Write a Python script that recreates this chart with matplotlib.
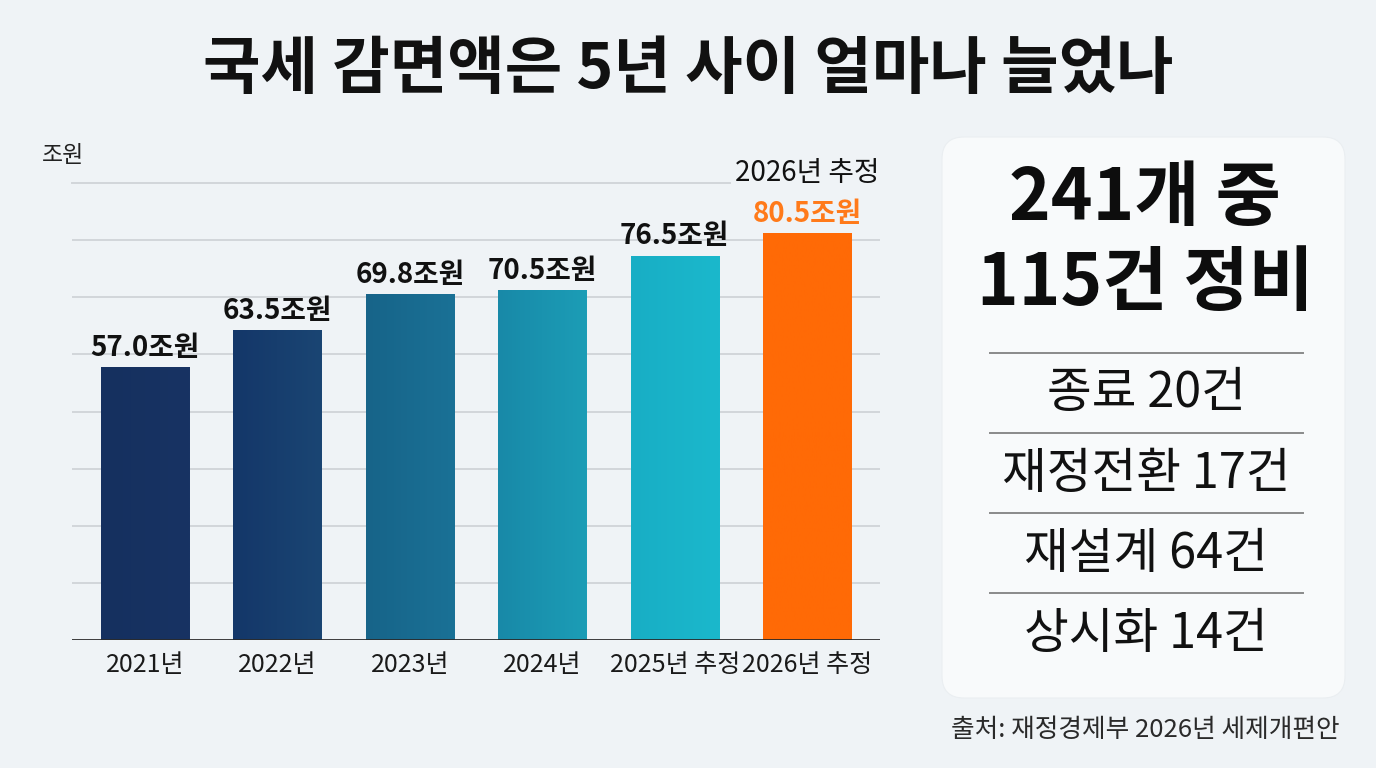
import numpy as np
import matplotlib.pyplot as plt
from matplotlib.patches import FancyBboxPatch
from matplotlib.colors import LinearSegmentedColormap

plt.rcParams['font.family'] = ['Noto Sans CJK KR', 'DejaVu Sans']

# data
years = ['2021년', '2022년', '2023년', '2024년', '2025년 추정', '2026년 추정']
values = [57.0, 63.5, 69.8, 70.5, 76.5, 80.5]
value_labels = ['57.0조원', '63.5조원', '69.8조원', '70.5조원', '76.5조원', '80.5조원']
left_colors = ['#15305f', '#143769', '#176489', '#1889a8', '#18aec5', '#ff6a06']
right_colors = ['#183363', '#1a4573', '#1a7196', '#1c9db6', '#1bb8cc', '#ff6a06']

summary_lines = ['241개 중', '115건 정비']
items = ['종료 20건', '재정전환 17건', '재설계 64건', '상시화 14건']

title = '국세 감면액은 5년 사이 얼마나 늘었나'
unit = '조원'
note_2026 = '2026년 추정'
source = '출처: 재정경제부 2026년 세제개편안'

BG = '#eff3f6'
W, H = 1376, 768

fig = plt.figure(figsize=(W / 100, H / 100), dpi=100, facecolor=BG)

# overlay axes in pixel coordinates for the layout pieces
lay = fig.add_axes([0, 0, 1, 1], zorder=0)
lay.set_xlim(0, W)
lay.set_ylim(H, 0)
lay.axis('off')

# bar chart axes
ax = fig.add_axes([72 / W, 1 - 640 / H, 808 / W, 457 / H], zorder=2)
ax.patch.set_alpha(0)
y0 = 9.2  # axis does not start at zero in the original
ax.set_ylim(y0, y0 + 80)
ax.set_xlim(-0.55, len(years) - 0.45)

for k in range(1, 9):
    if k == 8:
        ax.axhline(y0 + 10 * k, xmin=0, xmax=0.814, color='#d2d6da', lw=1.4,
                   zorder=0, clip_on=False)
    else:
        ax.axhline(y0 + 10 * k, color='#d2d6da', lw=1.4, zorder=0)

x = np.arange(len(years))
bars = ax.bar(x, values, width=0.665, bottom=0, color='none', zorder=2)
for i, b in enumerate(bars):
    cmap = LinearSegmentedColormap.from_list('g', [left_colors[i], right_colors[i]])
    grad = np.linspace(0, 1, 64).reshape(1, -1)
    bx, bw = b.get_x(), b.get_width()
    im = ax.imshow(grad, cmap=cmap, aspect='auto', zorder=2,
                   extent=[bx, bx + bw, y0, values[i]])
    im.set_clip_path(b)

ax.axhline(y0, color='#2b2b2b', lw=2, zorder=3)

for i, v in enumerate(values):
    last = i == len(values) - 1
    ax.annotate(value_labels[i], (x[i], v), xytext=(0, 8), textcoords='offset points',
                ha='center', va='baseline', fontsize=20, fontweight='bold',
                color='#ff7a1a' if last else '#111111', annotation_clip=False)
ax.annotate(note_2026, (x[-1], values[-1]), xytext=(0, 37), textcoords='offset points',
            ha='center', va='baseline', fontsize=20, fontweight='medium',
            color='#111111', annotation_clip=False)

ax.set_yticks([])
ax.set_xticks(x)
ax.set_xticklabels(years, fontsize=18, color='#1a1a1a')
ax.tick_params(axis='x', length=0, pad=9)
for s in ax.spines.values():
    s.set_visible(False)

# title and unit
lay.text(W / 2, 70, title, ha='center', va='center', fontsize=45,
         fontweight='black', color='#111111')
lay.text(42, 156, unit, ha='left', va='center', fontsize=16.5, color='#222222')

# right summary panel
panel = FancyBboxPatch((942, 137), 403, 561, boxstyle='round,pad=0,rounding_size=22',
                       facecolor='#f8fafb', edgecolor='#eaeef1', lw=0.8, zorder=1)
lay.add_patch(panel)
lay.text(1145, 199, summary_lines[0], ha='center', va='center', fontsize=51,
         fontweight='black', color='#0d0d0d', zorder=2)
lay.text(1145, 284, summary_lines[1], ha='center', va='center', fontsize=51,
         fontweight='black', color='#0d0d0d', zorder=2)

for yl in [353, 433, 513, 593]:
    lay.plot([990, 1303], [yl, yl], color='#8a8a8a', lw=1.4, zorder=2)
for yt, txt in zip([393, 474, 554, 634], items):
    lay.text(1146, yt, txt, ha='center', va='center', fontsize=35,
             fontweight='medium', color='#111111', zorder=2)

lay.text(1340, 730, source, ha='right', va='center', fontsize=18.5, color='#2a2a2a')

fig.savefig('out.png', dpi=100, facecolor=BG)
